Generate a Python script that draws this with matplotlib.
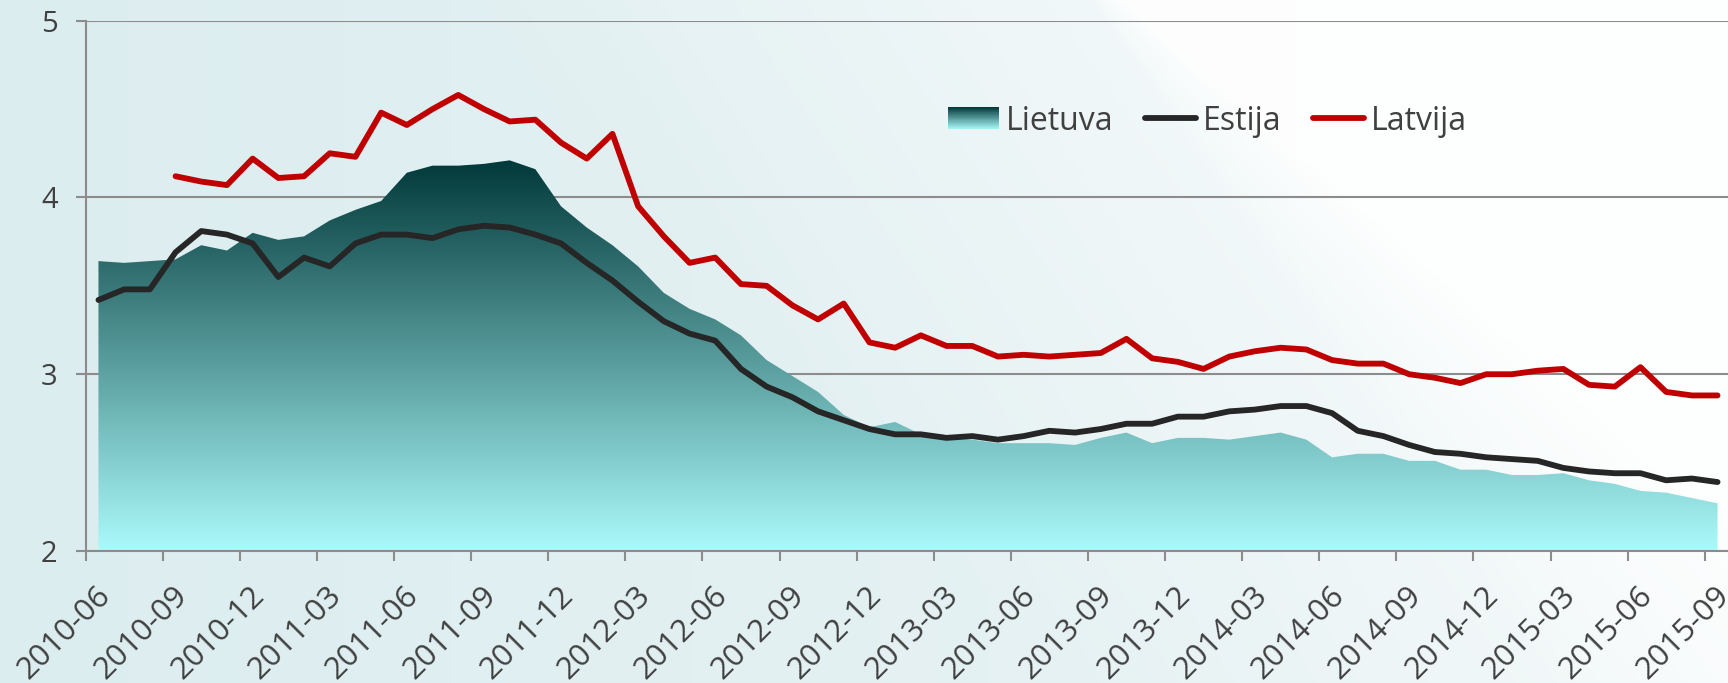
# Kredito palūkanų normos: Lietuva / Estija / Latvija (2010-06 .. 2015-09)

import numpy as np
import pandas as pd
import matplotlib as mpl
import matplotlib.pyplot as plt
from matplotlib.colors import LinearSegmentedColormap
from matplotlib.legend_handler import HandlerBase
from matplotlib.patches import Rectangle
from matplotlib.transforms import ScaledTranslation

mpl.rcParams["font.family"] = ["Open Sans", "DejaVu Sans"]
mpl.rcParams["text.color"] = "#404040"
mpl.rcParams["xtick.color"] = "#8c8c8c"
mpl.rcParams["ytick.color"] = "#8c8c8c"
mpl.rcParams["xtick.labelcolor"] = "#404040"
mpl.rcParams["ytick.labelcolor"] = "#404040"

# ----------------- Duomenys -------------------
menesiai = pd.period_range("2010-06", "2015-09", freq="M").strftime("%Y-%m").tolist()

lietuva = [3.64, 3.63, 3.64, 3.65, 3.73, 3.70, 3.80, 3.76, 3.78, 3.87,
           3.93, 3.98, 4.14, 4.18, 4.18, 4.19, 4.21, 4.16, 3.95, 3.83,
           3.73, 3.61, 3.46, 3.37, 3.31, 3.22, 3.08, 2.99, 2.90, 2.77,
           2.70, 2.73, 2.66, 2.64, 2.63, 2.61, 2.61, 2.61, 2.60, 2.64,
           2.67, 2.61, 2.64, 2.64, 2.63, 2.65, 2.67, 2.63, 2.53, 2.55,
           2.55, 2.51, 2.51, 2.46, 2.46, 2.43, 2.43, 2.44, 2.40, 2.38,
           2.34, 2.33, 2.30, 2.27]

estija = [3.42, 3.48, 3.48, 3.69, 3.81, 3.79, 3.74, 3.55, 3.66, 3.61,
          3.74, 3.79, 3.79, 3.77, 3.82, 3.84, 3.83, 3.79, 3.74, 3.63,
          3.53, 3.41, 3.30, 3.23, 3.19, 3.03, 2.93, 2.87, 2.79, 2.74,
          2.69, 2.66, 2.66, 2.64, 2.65, 2.63, 2.65, 2.68, 2.67, 2.69,
          2.72, 2.72, 2.76, 2.76, 2.79, 2.80, 2.82, 2.82, 2.78, 2.68,
          2.65, 2.60, 2.56, 2.55, 2.53, 2.52, 2.51, 2.47, 2.45, 2.44,
          2.44, 2.40, 2.41, 2.39]

latvija = [np.nan, np.nan, np.nan, 4.12, 4.09, 4.07, 4.22, 4.11, 4.12, 4.25,
           4.23, 4.48, 4.41, 4.50, 4.58, 4.50, 4.43, 4.44, 4.31, 4.22,
           4.36, 3.95, 3.78, 3.63, 3.66, 3.51, 3.50, 3.39, 3.31, 3.40,
           3.18, 3.15, 3.22, 3.16, 3.16, 3.10, 3.11, 3.10, 3.11, 3.12,
           3.20, 3.09, 3.07, 3.03, 3.10, 3.13, 3.15, 3.14, 3.08, 3.06,
           3.06, 3.00, 2.98, 2.95, 3.00, 3.00, 3.02, 3.03, 2.94, 2.93,
           3.04, 2.90, 2.88, 2.88]

y_ticks = [2, 3, 4, 5]

# ----------------- Spalvos -------------------
GRID = "#8c8c8c"
ESTIJA_C = "#262626"
LATVIJA_C = "#c00000"
teal = LinearSegmentedColormap.from_list("teal", ["#02393a", "#abfafb"])


class GradientPatchHandler(HandlerBase):
    """Legendos stačiakampis su vertikaliu gradientu."""

    def __init__(self, cmap, n=30):
        super().__init__()
        self.cmap = cmap
        self.n = n

    def create_artists(self, legend, orig_handle, xdescent, ydescent,
                       width, height, fontsize, trans):
        arts = []
        for k in range(self.n):
            y0 = -ydescent + height * k / self.n
            arts.append(Rectangle((-xdescent, y0), width, height / self.n + 0.3,
                                  facecolor=self.cmap(1 - (k + 0.5) / self.n),
                                  edgecolor="none", transform=trans))
        return arts


# ----------------- Figūra -------------------
W, H = 1728, 683
fig = plt.figure(figsize=(W / 100, H / 100), dpi=100)

# fonas: šviesiai melsvas kairėje, balta įstriža juosta dešinėje
yy, xx = np.mgrid[0:H, 0:W].astype(float)
kaire = np.array([0.862, 0.930, 0.940])
desine = np.array([0.925, 0.958, 0.962])
t = (xx / W)[..., None]
fonas = kaire * (1 - t) + desine * t
s = xx - (1105 + 0.9 * yy)
soft = 30 + 0.5 * yy
edge = np.clip(0.5 + s / soft, 0, 1)
sheen = (0.92 * edge + (1 - edge) * 0.45 * np.clip(1 + s / 650, 0, 1))[..., None]
fonas = fonas * (1 - sheen) + np.ones(3) * sheen

bg = fig.add_axes([0, 0, 1, 1], zorder=-10)
bg.imshow(fonas, aspect="auto", extent=[0, 1, 0, 1])
bg.axis("off")

ax = fig.add_axes([85.6 / W, 132 / H, 1644.8 / W, 530.3 / H])
ax.set_facecolor("none")

x = np.arange(len(menesiai))
lt = np.array(lietuva)

# Lietuva: plotas su gradientu
poly = ax.fill_between(x, 2, lt, facecolor="none", edgecolor="none")
grad = np.linspace(1, 0, 256).reshape(-1, 1)
im = ax.imshow(grad, cmap=teal, aspect="auto", origin="lower",
               extent=[x[0], x[-1], 2, lt.max()], zorder=1, interpolation="bilinear")
im.set_clip_path(poly.get_paths()[0], transform=ax.transData)

l_est, = ax.plot(x, estija, color=ESTIJA_C, lw=4.2, solid_capstyle="round",
                 solid_joinstyle="round", zorder=3)
l_lat, = ax.plot(x, latvija, color=LATVIJA_C, lw=4.2, solid_capstyle="round",
                 solid_joinstyle="round", zorder=3)

ax.set_xlim(-0.5, len(menesiai) - 0.5)
ax.set_ylim(2, 5)

# ašys
for side in ["top", "right"]:
    ax.spines[side].set_visible(False)
for side in ["left", "bottom"]:
    ax.spines[side].set_color(GRID)
    ax.spines[side].set_linewidth(1.5)

ax.set_yticks(y_ticks)
ax.yaxis.grid(True, color=GRID, lw=1.5)
ax.set_axisbelow(True)
ax.tick_params(axis="y", length=7.2, width=1.5, pad=13, labelsize=21)

ax.set_xticks(np.arange(-0.5, len(menesiai), 3))
ax.set_xticklabels([])
ax.tick_params(axis="x", which="major", length=7, width=1.5)
ax.set_xticks(x[::3], menesiai[::3], minor=True)
ax.tick_params(axis="x", which="minor", length=0, pad=21, labelsize=22.5)
for lab in ax.get_xticklabels(minor=True):
    lab.set_rotation(45)
    lab.set_ha("right")
    lab.set_va("top")
    lab.set_rotation_mode("anchor")
    lab.set_transform(lab.get_transform() + ScaledTranslation(-0.03, 0, fig.dpi_scale_trans))

# legenda
lt_proxy = Rectangle((0, 0), 1, 1)
fig.legend([lt_proxy, l_est, l_lat], ["Lietuva", "Estija", "Latvija"],
           handler_map={lt_proxy: GradientPatchHandler(teal)},
           loc="center left", bbox_to_anchor=(948 / W, 1 - 121 / H),
           ncol=3, frameon=False, fontsize=23, borderpad=0, borderaxespad=0,
           handlelength=1.6, handleheight=0.68, handletextpad=0.2,
           columnspacing=1.0)

fig.savefig("out.png", dpi=100)
